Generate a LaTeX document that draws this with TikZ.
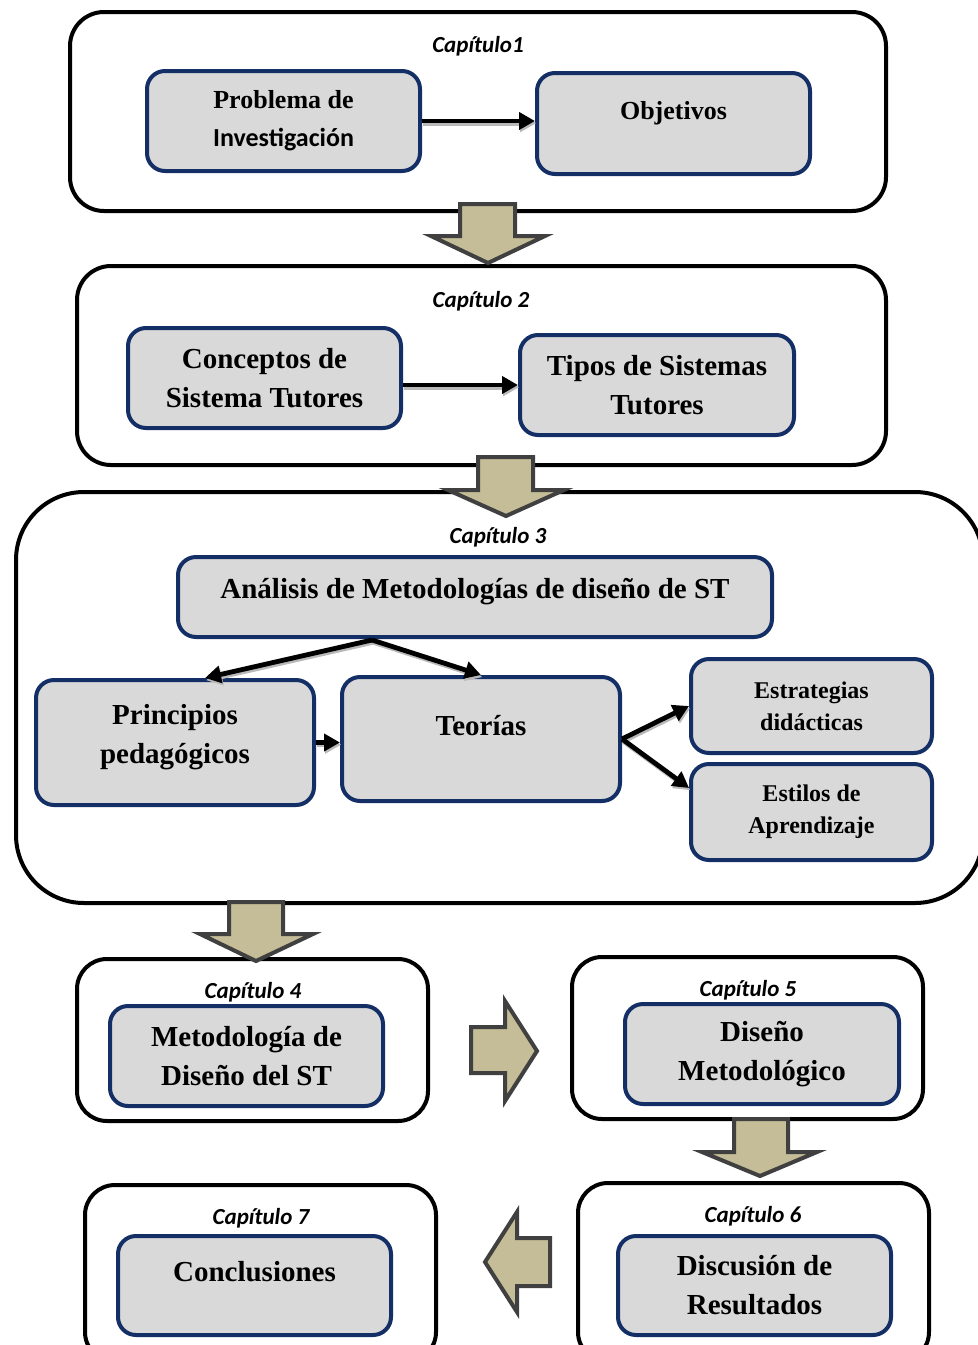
\documentclass[tikz,border=0pt]{standalone}
\usepackage{fontspec}
\setmainfont{Liberation Serif}
\newfontfamily\calibri{Carlito}
\usetikzlibrary{arrows.meta,positioning}

\definecolor{navyline}{HTML}{142F66}
\definecolor{boxgray}{HTML}{D9D9D9}
\definecolor{khaki}{HTML}{C4BD97}
\definecolor{arrowedge}{HTML}{404040}

\tikzset{
  chapframe/.style={draw=black, line width=2pt, rounded corners=17pt},
  topicbox/.style={draw=navyline, fill=boxgray, line width=2pt, rounded corners=9pt,
    align=center, inner sep=2pt, font=\bfseries\fontsize{14.5}{19.5}\selectfont},
  smallbox/.style={topicbox, font=\bfseries\fontsize{12}{16}\selectfont},
  firstbox/.style={topicbox, font=\bfseries\fontsize{13}{19}\selectfont},
  uptext/.style={text depth=#1},
  chaplabel/.style={font=\calibri\bfseries\itshape\fontsize{11.5}{13}\selectfont, inner sep=0pt},
  linkarrow/.style={-{Triangle[length=8pt,width=8.5pt]}, line width=2.4pt,
    preaction={draw=gray!55, line width=2.4pt, transform canvas={xshift=0.6pt,yshift=-1.1pt}}},
  blockarrow/.style={fill=khaki, draw=arrowedge, line width=2pt, line join=miter},
}

\begin{document}
\begin{tikzpicture}[x=0.5pt, y=-0.5pt]
  \clip (0,0) rectangle (978,1345);
  \useasboundingbox (0,0) rectangle (978,1345);

  % chapter frames
  \node[chapframe, minimum width=408pt, minimum height=99.5pt] (cap1) at (478,111.5) {};
  \node[chapframe, minimum width=404.5pt, minimum height=99.5pt] (cap2) at (481.5,365.5) {};
  \node[chapframe, rounded corners=34pt, minimum width=483.5pt, minimum height=205.5pt] (cap3) at (499.5,697.5) {};
  \node[chapframe, rounded corners=15pt, minimum width=175.5pt, minimum height=81pt] (cap4) at (252.5,1040) {};
  \node[chapframe, rounded corners=15pt, minimum width=175.5pt, minimum height=81pt] (cap5) at (747.5,1038) {};
  \node[chapframe, rounded corners=15pt, minimum width=175.5pt, minimum height=89.5pt] (cap6) at (753.5,1272.5) {};
  \node[chapframe, rounded corners=15pt, minimum width=175.5pt, minimum height=88.5pt] (cap7) at (260.5,1273.5) {};

  % chapter titles
  \node[chaplabel] (lab1) at (478,46) {Capítulo1};
  \node[chaplabel] (lab2) at (481,301) {Capítulo 2};
  \node[chaplabel] (lab3) at (498,537) {Capítulo 3};
  \node[chaplabel] (lab4) at (253,992) {Capítulo 4};
  \node[chaplabel] (lab5) at (748,990) {Capítulo 5};
  \node[chaplabel] (lab6) at (753,1216) {Capítulo 6};
  \node[chaplabel] (lab7) at (261,1218) {Capítulo 7};

  % block arrows between chapters
  \draw[blockarrow] (460,204) -- (515,204) -- (515,236) -- (545,236) -- (488,263) -- (431,236) -- (460,236) -- cycle;
  \draw[blockarrow] (478,457) -- (533,457) -- (533,490) -- (564,490) -- (506,516) -- (448,490) -- (478,490) -- cycle;
  \draw[blockarrow] (229,902) -- (283,902) -- (283,934) -- (313,934) -- (256,961) -- (200,934) -- (229,934) -- cycle;
  \draw[blockarrow] (734,1119) -- (788,1119) -- (788,1152) -- (817,1152) -- (760,1176) -- (702,1152) -- (734,1152) -- cycle;
  \draw[blockarrow] (471,1027) -- (505,1027) -- (505,1001) -- (537,1051) -- (505,1101) -- (505,1073) -- (471,1073) -- cycle;
  \draw[blockarrow] (550,1238) -- (517,1238) -- (517,1212) -- (485,1262) -- (517,1312) -- (517,1286) -- (550,1286) -- cycle;

  % chapter 1
  \node[firstbox, minimum width=136.5pt, minimum height=50pt] (prob) at (283.5,121) {Problema de\\{\calibri Investigación}};
  \node[firstbox, uptext=13pt, minimum width=136.5pt, minimum height=50.5pt] (obj) at (673.5,123.5) {Objetivos};
  \draw[linkarrow] (prob.east) -- (prob.east -| obj.west);

  % chapter 2
  \node[topicbox, minimum width=136.5pt, minimum height=50pt] (conc) at (264.5,378) {Conceptos de\\Sistema Tutores};
  \node[topicbox, minimum width=137pt, minimum height=50pt] (tipos) at (657,385) {Tipos de Sistemas\\Tutores};
  \draw[linkarrow] (tipos.west -| conc.east) -- (tipos.west);

  % chapter 3
  \node[topicbox, uptext=9pt, minimum width=297pt, minimum height=40pt] (ana) at (475,597) {Análisis de Metodologías de diseño de ST};
  \node[topicbox, uptext=9pt, minimum width=139pt, minimum height=62.5pt] (prin) at (175,742.5) {Principios\\pedagógicos};
  \node[topicbox, uptext=14pt, minimum width=139pt, minimum height=62pt] (teo) at (481,739) {Teorías};
  \node[smallbox, minimum width=120.5pt, minimum height=47pt] (estr) at (811.5,706) {Estrategias\\didácticas};
  \node[smallbox, minimum width=120.5pt, minimum height=48pt] (esti) at (811.5,812) {Estilos de\\Aprendizaje};
  \coordinate (split) at (372,640);
  \draw[linkarrow] (split) -- ([xshift=15pt]prin.north);
  \draw[linkarrow] (split) -- (teo.north);
  \draw[linkarrow] (prin.east) -- (prin.east -| teo.west);
  \draw[linkarrow] (teo.east) -- (estr.west);
  \draw[linkarrow] (teo.east) -- ([yshift=12pt]esti.west);

  % chapters 4 to 7
  \node[topicbox, minimum width=136.5pt, minimum height=50pt] (meto) at (246.5,1056) {Metodología de\\Diseño del ST};
  \node[topicbox, minimum width=137pt, minimum height=50pt] (dise) at (762,1054) {Diseño\\Metodológico};
  \node[topicbox, minimum width=136.5pt, minimum height=49.5pt] (disc) at (754.5,1285.5) {Discusión de\\Resultados};
  \node[topicbox, uptext=14pt, minimum width=136.5pt, minimum height=49.5pt] (concl) at (254.5,1285.5) {Conclusiones};
\end{tikzpicture}
\end{document}
